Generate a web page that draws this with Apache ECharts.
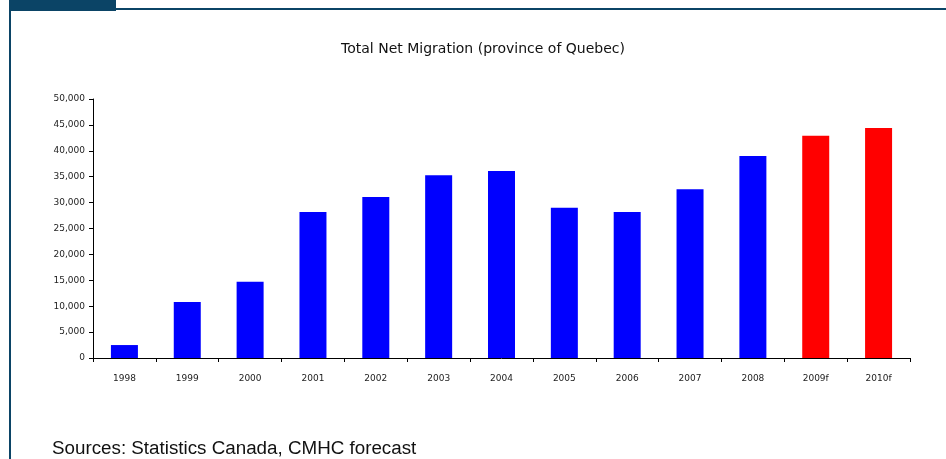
<!DOCTYPE html>
<html>
<head>
<meta charset="utf-8">
<script src="https://cdn.jsdelivr.net/npm/echarts@6/dist/echarts.min.js"></script>
<style>html,body{margin:0;padding:0;background:#fff}#c{width:946px;height:459px}</style>
</head>
<body>
<div id="c"></div>
<script>
var categories = ['1998','1999','2000','2001','2002','2003','2004','2005','2006','2007','2008','2009f','2010f'];
var values = [2500, 10800, 14700, 28200, 31100, 35300, 36100, 29000, 28200, 32600, 39000, 42900, 44400];
var forecast = [false,false,false,false,false,false,false,false,false,false,false,true,true];
var yTicks = [0, 5000, 10000, 15000, 20000, 25000, 30000, 35000, 40000, 45000, 50000];

var chart = echarts.init(document.getElementById('c'), null, {renderer:'canvas'});
var frame = '#0b4466';
chart.setOption({
  animation: false,
  title: {
    text: 'Total Net Migration (province of Quebec)',
    left: 478, top: 37, textAlign: 'center',
    textStyle: {fontFamily: 'DejaVu Sans', fontSize: 14, fontWeight: 'normal', color: '#111'}
  },
  grid: {left: 93, right: 36, top: 99, bottom: 101},
  xAxis: {
    type: 'category', data: categories,
    axisLine: {lineStyle: {color: '#000', width: 1}},
    axisTick: {show: true, length: 4, alignWithLabel: false, lineStyle: {color: '#000'}},
    axisLabel: {fontFamily: 'DejaVu Sans, Verdana', fontSize: 9, color: '#222', margin: 16}
  },
  yAxis: {
    type: 'value', min: yTicks[0], max: yTicks[yTicks.length-1], interval: 5000,
    axisLine: {show: true, lineStyle: {color: '#000'}},
    axisTick: {show: true, length: 4, lineStyle: {color: '#000'}},
    splitLine: {show: false},
    axisLabel: {fontFamily: 'DejaVu Sans, Verdana', fontSize: 9, color: '#222', margin: 8,
      formatter: function(v){ return v.toLocaleString('en-US'); }}
  },
  series: [{
    type: 'bar', barWidth: 27,
    data: values.map(function(v, i){ return {value: v, itemStyle: {color: forecast[i] ? '#ff0000' : '#0000ff'}}; })
  }],
  graphic: [
    {type: 'rect', shape: {x: 9, y: 0, width: 107, height: 11}, style: {fill: frame}},
    {type: 'rect', shape: {x: 116, y: 8, width: 830, height: 2}, style: {fill: frame}},
    {type: 'rect', shape: {x: 9, y: 10, width: 2, height: 449}, style: {fill: frame}},
    {type: 'text', left: 52, top: 439, style: {text: 'Sources: Statistics Canada, CMHC forecast', font: '18.8px "Liberation Sans", Arial', fill: '#111'}}
  ]
});
</script>
</body>
</html>
